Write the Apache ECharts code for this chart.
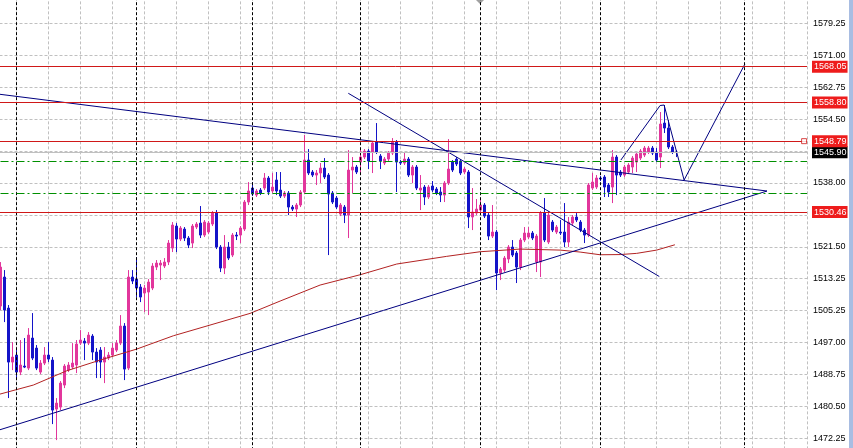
<!DOCTYPE html>
<html><head><meta charset="utf-8">
<script src="https://cdn.jsdelivr.net/npm/echarts@6/dist/echarts.min.js"></script>
<style>html,body{margin:0;padding:0;background:#fff;overflow:hidden;width:853px;height:448px;position:relative}
#c{position:absolute;left:-16px;top:-9px;width:869px;height:480px}</style>
</head><body><div id="c"></div>
<script>
// ---- candle data (index = bar number from the left edge) ----
const open = [
1506.17,1513.67,1505.65,1491.69,1493.50,1489.11,1490.66,1490.14,1497.90,1495.31,
1489.11,1491.43,1493.50,1492.21,1479.54,1480.06,1485.75,1489.62,1490.40,1490.92,
1496.60,1497.12,1496.60,1498.41,1494.28,1494.79,1491.69,1492.73,1493.50,1494.79,
1496.60,1501.00,1490.14,1513.67,1513.15,1511.08,1509.53,1509.79,1510.82,1516.25,
1516.77,1516.51,1517.54,1521.16,1526.85,1523.49,1526.07,1523.75,1522.45,1526.59,
1527.62,1524.52,1525.30,1527.37,1530.21,1521.42,1515.99,1521.42,1519.35,1524.52,
1524.52,1526.07,1533.05,1536.67,1534.86,1536.15,1536.67,1539.26,1535.90,1538.74,
1536.15,1534.60,1535.38,1531.76,1531.24,1532.28,1535.64,1543.91,1540.81,1540.03,
1540.55,1541.84,1540.03,1535.38,1534.09,1529.95,1531.76,1529.69,1541.32,1542.10,
1543.39,1544.68,1546.23,1545.97,1548.56,1544.94,1543.13,1544.16,1545.71,1548.56,
1543.39,1543.13,1544.16,1540.03,1542.10,1536.15,1536.93,1534.35,1537.19,1536.41,
1535.64,1534.86,1537.97,1543.39,1544.16,1543.65,1540.81,1540.81,1529.18,1530.21,
1530.98,1532.28,1529.69,1524.26,1525.30,1514.70,1515.47,1518.32,1521.42,1519.87,
1516.25,1523.23,1524.00,1525.04,1517.54,1517.54,1530.21,1522.71,1527.88,1525.30,
1525.30,1525.30,1522.71,1527.62,1529.18,1527.88,1525.81,1524.52,1536.67,1536.93,
1539.26,1539.52,1537.45,1536.93,1544.68,1540.81,1540.03,1540.81,1542.10,1543.39,
1544.42,1545.20,1545.97,1547.01,1545.71,1544.68,1553.47,1552.18,1547.27,1545.97];
const close = [
1516.25,1505.13,1491.69,1492.99,1489.11,1490.92,1490.40,1498.67,1492.73,1490.14,
1491.43,1493.50,1492.47,1479.28,1481.09,1486.26,1490.66,1490.92,1491.43,1496.35,
1497.38,1496.60,1498.67,1494.28,1491.69,1491.69,1492.99,1493.50,1495.31,1496.60,
1501.00,1489.88,1513.67,1512.63,1510.82,1508.50,1510.82,1512.37,1516.51,1517.28,
1517.28,1517.54,1522.45,1527.11,1523.49,1526.33,1523.75,1521.94,1526.85,1527.37,
1524.52,1527.88,1527.62,1530.21,1521.42,1515.99,1521.42,1518.58,1524.52,1524.26,
1526.33,1533.05,1535.90,1535.12,1535.90,1535.38,1539.26,1535.64,1536.93,1535.90,
1534.60,1535.38,1531.76,1531.24,1532.28,1535.64,1543.91,1540.55,1540.03,1540.55,
1541.84,1539.52,1535.12,1533.05,1531.76,1532.28,1529.69,1541.32,1542.10,1540.81,
1544.68,1546.23,1543.65,1548.30,1545.97,1543.65,1544.16,1545.71,1548.56,1543.39,
1543.13,1544.16,1540.03,1542.10,1536.67,1536.67,1534.35,1536.93,1536.15,1535.38,
1534.86,1537.97,1541.58,1541.32,1542.88,1540.55,1541.58,1529.18,1530.47,1531.24,
1532.28,1529.43,1524.26,1525.30,1514.70,1515.73,1518.58,1521.42,1519.35,1516.25,
1523.23,1525.04,1525.04,1523.75,1524.26,1530.21,1523.23,1529.69,1525.81,1526.59,
1525.04,1522.71,1527.88,1529.18,1528.40,1525.81,1524.52,1537.45,1538.22,1539.26,
1539.00,1536.93,1535.64,1544.68,1540.03,1540.03,1542.10,1542.62,1544.42,1545.46,
1546.23,1547.01,1547.01,1545.71,1543.91,1553.22,1552.18,1547.27,1545.97,1545.90];
const low = [
1505.13,1502.03,1482.39,1489.62,1487.04,1488.33,1490.14,1489.62,1492.21,1489.62,
1488.59,1490.92,1491.69,1475.67,1471.53,1479.28,1484.97,1489.11,1489.88,1488.85,
1496.09,1492.21,1496.09,1492.21,1487.56,1487.56,1486.26,1492.21,1492.99,1494.28,
1496.09,1487.04,1489.62,1511.86,1508.50,1507.20,1504.62,1503.84,1510.30,1515.47,
1512.89,1515.99,1516.77,1520.13,1520.13,1522.97,1522.97,1521.16,1521.16,1526.07,
1523.75,1524.00,1524.78,1526.85,1520.90,1514.96,1514.44,1518.06,1518.84,1523.23,
1522.45,1525.56,1532.28,1534.60,1534.35,1534.86,1536.15,1534.86,1535.38,1534.86,
1534.09,1534.09,1529.69,1530.73,1529.18,1531.76,1535.12,1540.03,1539.52,1537.45,
1537.97,1539.00,1519.35,1532.54,1531.24,1529.43,1527.62,1523.75,1535.38,1540.29,
1540.55,1544.16,1541.58,1540.55,1545.46,1541.58,1542.62,1543.65,1545.20,1535.64,
1542.62,1542.62,1539.52,1537.97,1536.15,1530.98,1532.28,1533.83,1535.64,1534.86,
1533.05,1533.05,1537.45,1540.81,1542.36,1540.03,1540.29,1526.33,1525.81,1529.69,
1530.47,1528.92,1523.23,1523.75,1510.30,1512.89,1514.96,1517.28,1518.84,1512.12,
1515.47,1522.71,1523.49,1523.23,1514.96,1513.67,1522.71,1522.19,1525.30,1524.78,
1524.52,1521.42,1521.42,1527.11,1527.88,1525.30,1522.45,1524.00,1536.15,1536.41,
1538.48,1534.35,1534.35,1532.79,1534.86,1539.52,1539.52,1540.29,1540.55,1540.81,
1543.91,1544.68,1545.46,1545.20,1543.39,1541.84,1550.89,1546.75,1545.46,1544.68];
const high = [
1517.54,1515.47,1506.43,1496.86,1494.79,1497.38,1497.90,1500.48,1504.36,1496.09,
1492.21,1495.57,1496.86,1492.99,1482.39,1486.78,1491.18,1491.69,1496.60,1497.38,
1499.96,1497.90,1499.45,1498.93,1495.31,1495.57,1495.57,1494.28,1496.60,1497.38,
1503.84,1501.77,1515.47,1515.47,1518.84,1511.86,1511.60,1513.15,1517.28,1518.06,
1518.06,1518.58,1523.23,1527.88,1527.62,1526.85,1526.59,1524.26,1527.37,1527.88,
1532.02,1528.40,1528.14,1530.73,1530.98,1521.94,1524.52,1522.71,1525.04,1525.30,
1526.85,1533.57,1538.22,1538.22,1536.41,1536.67,1540.55,1539.77,1540.55,1540.81,
1540.81,1535.90,1535.90,1532.28,1532.79,1536.15,1550.37,1546.75,1541.32,1541.32,
1543.13,1544.42,1540.55,1535.90,1534.60,1532.79,1532.28,1546.49,1544.68,1542.62,
1546.75,1546.75,1546.75,1548.82,1553.47,1545.46,1544.68,1546.23,1549.59,1549.08,
1543.91,1545.97,1544.68,1542.62,1542.62,1540.03,1537.45,1537.45,1538.48,1536.93,
1536.93,1538.48,1549.33,1543.91,1544.68,1544.16,1542.10,1541.32,1536.67,1533.83,
1533.57,1532.79,1530.21,1532.28,1525.81,1516.25,1519.10,1521.94,1523.23,1520.39,
1523.75,1526.59,1526.59,1525.56,1524.78,1530.73,1534.09,1530.73,1528.40,1527.11,
1528.40,1532.79,1529.18,1529.69,1530.21,1528.40,1526.33,1537.97,1540.55,1540.03,
1539.77,1540.03,1537.97,1546.49,1545.20,1541.32,1542.62,1543.13,1544.94,1545.97,
1546.75,1547.53,1547.53,1547.53,1547.01,1556.32,1558.13,1554.25,1547.78,1546.49];

// moving average (bar index, price)
const maIndex = [-0.125, 8.2, 16.55, 24.9, 34.05, 43.2, 62.4, 69.9, 79.9, 89.9, 99.05, 111.55, 119.9, 129.9, 139.9, 144.9, 149.9, 154.9, 159.05, 164.05, 168.6];
const maValue = [1483.42, 1485.75, 1489.44, 1492.21, 1495.05, 1498.49, 1504.28, 1507.46, 1511.60, 1514.26, 1517.03, 1519.02, 1520.21, 1520.90, 1520.64, 1520.13, 1519.43, 1519.48, 1519.79, 1520.64, 1522.01];

// drawn objects
const redLevels = [1568.05, 1558.80, 1548.79, 1530.46];
const orderMarker = [200.9, 1548.79];
const bidPrice = 1545.90;
const greenLevels = [1543.58, 1535.39];
const separators = [4, 34, 63, 90, 120, 150, 186];
const trendUpper = [[-0.125, 1560.90], [191.625, 1535.90]];
const trendLower = [[-0.125, 1474.21], [191.625, 1535.90]];
const trendSteep = [[86.95, 1561.16], [164.7, 1513.81]];
const zigzag = [[155.1, 1543.92], [164.9, 1558.00], [165.9, 1558.13], [170.9, 1538.75], [186.1, 1568.73]];

// price scale tick labels (bottom to top, one per grid row)
const yTickLabels = ['', '1472.25', '1480.50', '1488.75', '1497.00', '1505.25', '1513.25', '1521.50', '', '1538.00', '', '1554.50', '1562.75', '1571.00', '1579.25', ''];

// axis offsets so that tick multiples line up with the grid
const X_SHIFT = 4, Y_SHIFT = 3.5, Y_STEP = 8.25, X_STEP = 8;
const X_MIN = 0, X_MAX = 205.625;
const Y_MIN = 1463.75, Y_MAX = 1587.50;
const px = i => i + X_SHIFT;
const py = p => +(p - Y_SHIFT).toFixed(4);

const PINK = '#e2369c', BLUE = '#1414c8', NAVY = '#000080', RED = '#d01818', TAG = '#ee1c1c', GREEN = '#009000';
const FONT = 'Liberation Sans';

const candleData = open.map((o, i) => [px(i), py(o), py(close[i]), py(low[i]), py(high[i])]);
const toXY = arr => arr.map(d => [px(d[0]), py(d[1])]);

function tagLabel(text, bg) {
  return { show: true, position: 'end', distance: 5, formatter: text, color: '#fff', backgroundColor: bg,
    fontSize: 9, fontFamily: FONT, lineHeight: 10, padding: [1, 1, 1, 2] };
}

const markSeries = {
  type: 'line', data: [], silent: true, z: 1,
  markLine: {
    silent: true, animation: false, symbol: ['none', 'none'],
    data: [
      ...separators.map(s => ({ xAxis: px(s), lineStyle: { color: '#000', type: [3, 2], width: 1 }, label: { show: false } })),
      ...greenLevels.map(g => ({ yAxis: py(g), lineStyle: { color: GREEN, type: [8, 3, 2, 3], width: 1 }, label: { show: false } })),
      { yAxis: py(bidPrice), lineStyle: { color: '#c0c0c0', type: 'solid', width: 1 }, label: tagLabel(bidPrice.toFixed(2), '#000') }
    ]
  }
};
const redSeries = {
  type: 'line', data: [], silent: true, z: 4,
  markLine: {
    silent: true, animation: false, symbol: ['none', 'none'],
    data: redLevels.map(r => ({
      yAxis: py(r), lineStyle: { color: RED, type: 'solid', width: 1 }, label: tagLabel(r.toFixed(2), TAG)
    }))
  }
};

function lineSeries(data, color, z) {
  return { type: 'line', data, showSymbol: false, symbol: 'none', silent: true, z,
    lineStyle: { color, width: 1 }, animation: false };
}

const option = {
  animation: false,
  backgroundColor: '#fff',
  grid: { left: 0.5, right: 46, top: 0.38, bottom: 0.8 },
  xAxis: {
    type: 'value', min: X_MIN, max: X_MAX, interval: X_STEP,
    axisLine: { show: false }, axisTick: { show: false }, axisLabel: { show: false },
    splitLine: { show: true, lineStyle: { color: '#c0c0c0', type: [3, 2], width: 1 } }
  },
  yAxis: {
    type: 'value', position: 'right', min: py(Y_MIN), max: py(Y_MAX), interval: Y_STEP,
    axisLine: { show: true, lineStyle: { color: '#000', width: 1 } },
    axisTick: { show: true, length: 3, lineStyle: { color: '#000' } },
    axisLabel: {
      show: true, margin: 6, color: '#000', fontSize: 9, fontFamily: FONT,
      formatter: v => yTickLabels[Math.round((v - py(Y_MIN)) / Y_STEP)] || ''
    },
    splitLine: { show: true, lineStyle: { color: '#c0c0c0', type: [3, 2], width: 1 } }
  },
  graphic: [
    { type: 'rect', right: 0, top: 0, shape: { width: 4, height: 480 }, style: { fill: '#a8bde2' }, silent: true },
    { type: 'polygon', shape: { points: [[492, 9], [500, 9], [496, 13]] }, style: { fill: '#a0a0a0' }, silent: true }
  ],
  series: [
    markSeries,
    {
      type: 'candlestick', data: candleData, barWidth: 2, z: 2, silent: true,
      itemStyle: { color: PINK, color0: BLUE, borderColor: PINK, borderColor0: BLUE, borderWidth: 1 }
    },
    lineSeries(maIndex.map((x, k) => [px(x), py(maValue[k])]), '#b22222', 3),
    lineSeries(toXY(trendUpper), NAVY, 3),
    lineSeries(toXY(trendLower), NAVY, 3),
    lineSeries(toXY(trendSteep), NAVY, 3),
    lineSeries(toXY(zigzag), NAVY, 3),
    redSeries,
    {
      type: 'scatter', data: [toXY([orderMarker])[0]], symbol: 'rect', symbolSize: 5, silent: true, z: 5, clip: false,
      itemStyle: { color: '#fff', borderColor: RED, borderWidth: 1 }
    }
  ]
};

const chart = echarts.init(document.getElementById('c'), null, { renderer: 'canvas' });
chart.setOption(option);
</script>
</body></html>
